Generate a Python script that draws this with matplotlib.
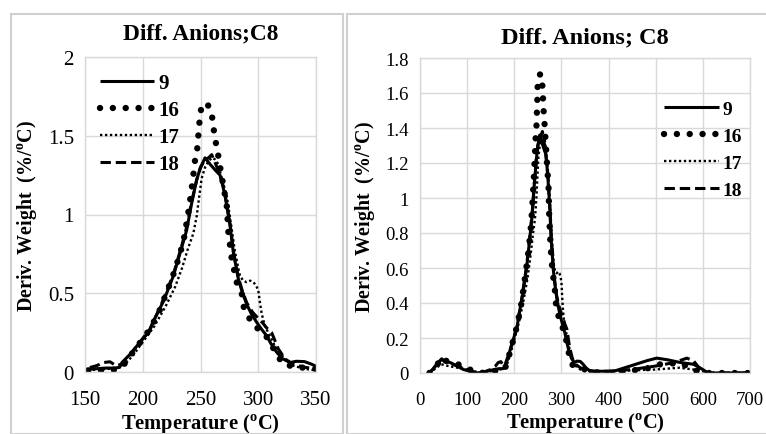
import matplotlib
matplotlib.use("Agg")
import matplotlib.pyplot as plt
from matplotlib.patches import Rectangle
from matplotlib.ticker import FuncFormatter

plt.rcParams['font.family'] = ['Liberation Serif', 'DejaVu Serif']
plt.rcParams['mathtext.fontset'] = 'custom'
plt.rcParams['mathtext.rm'] = 'Liberation Serif'
plt.rcParams['mathtext.bf'] = 'Liberation Serif:bold'

# ---------------- data ----------------
series_names = ['9', '16', '17', '18']

t9 = [20, 27, 35, 46, 53, 64, 78, 92, 106, 120, 135, 150, 158, 168, 176, 180, 182, 186, 190, 197.6,
      206, 209, 218, 226.5, 233.7, 238, 242.3, 246.7, 249.6, 253.9, 258.2, 263, 266.9, 269, 271.2,
      275.6, 278.4, 282.8, 286, 290, 294, 298.7, 303, 307.3, 311, 316, 321, 327.5, 333, 340, 346,
      352, 361, 375, 411, 446, 481, 502, 524, 552, 580, 598, 609, 620, 700]
v9 = [0.0, 0.02, 0.05, 0.08, 0.065, 0.06, 0.04, 0.02, 0.01, 0.0, 0.005, 0.015, 0.02, 0.025, 0.025, 0.03,
      0.06, 0.09, 0.12, 0.19, 0.26, 0.32, 0.45, 0.61, 0.79, 0.90, 1.07, 1.22, 1.29, 1.36, 1.32, 1.28,
      1.25, 1.19, 1.12, 0.93, 0.76, 0.59, 0.51, 0.43, 0.37, 0.315, 0.27, 0.23, 0.18, 0.125, 0.085,
      0.06, 0.068, 0.066, 0.05, 0.03, 0.01, 0.01, 0.01, 0.04, 0.07, 0.085, 0.076, 0.06, 0.05, 0.023,
      0.004, 0.0, 0.0]

t16 = [20, 30, 40, 48, 55, 66, 80, 91, 100, 112, 130, 150, 165, 178, 184, 190, 197, 206, 214, 222,
       228, 233, 236, 239.4, 242.3, 243.8, 245.2, 247.2, 248.1, 249, 249.6, 252, 255.3, 257.5, 259.7,
       261.1, 262.6, 264.6, 266.3, 268, 269.8, 272.7, 274.1, 277, 281.3, 285.7, 287, 291.4, 297.2,
       305.8, 311.6, 316, 321.7, 333.3, 345, 360, 382, 418, 446, 467, 488, 510, 528, 545, 566, 584,
       609, 700]
v16 = [0.0, 0.03, 0.06, 0.09, 0.07, 0.06, 0.05, 0.04, 0.03, 0.01, 0.0, 0.01, 0.012, 0.015, 0.05,
       0.11, 0.18, 0.27, 0.38, 0.53, 0.65, 0.77, 0.86, 1.01, 1.16, 1.25, 1.34, 1.42, 1.50, 1.575, 1.65,
       1.69, 1.71, 1.68, 1.64, 1.56, 1.48, 1.41, 1.33, 1.26, 1.18, 1.06, 0.89, 0.72, 0.57, 0.50, 0.42,
       0.35, 0.29, 0.24, 0.17, 0.11, 0.05, 0.03, 0.025, 0.01, 0.0, 0.0, 0.013, 0.02, 0.03, 0.05, 0.05,
       0.06, 0.04, 0.013, 0.0, 0.0]

t17 = [20, 30, 45, 60, 80, 100, 120, 150, 170, 180, 186, 192, 200, 210, 220, 228, 234, 239,
       243.8, 246.7, 249, 251, 254, 257, 260, 262.5, 265.4, 268.4, 272.7, 277, 279.9, 284.2, 287,
       290, 293, 295.8, 298, 300, 301.5, 303, 305.8, 310.2, 314, 318.8, 324, 330.4, 340, 350, 400,
       500, 550, 580, 620, 700]
v17 = [0.0, 0.02, 0.05, 0.04, 0.03, 0.02, 0.0, 0.01, 0.02, 0.03, 0.06, 0.11, 0.19, 0.29, 0.42, 0.54,
       0.66, 0.78, 0.88, 0.99, 1.12, 1.23, 1.30, 1.34, 1.36, 1.35, 1.32, 1.23, 1.12, 0.91, 0.76, 0.61,
       0.58, 0.57, 0.58, 0.57, 0.55, 0.52, 0.44, 0.37, 0.29, 0.23, 0.17, 0.125, 0.07, 0.04, 0.02, 0.01,
       0.01, 0.02, 0.03, 0.02, 0.0, 0.0]

t18 = [20, 30, 46, 55, 70, 90, 110, 130, 150, 160, 166, 171.6, 177, 182, 186, 190, 197.6, 206,
       215, 226.5, 233.7, 238, 242.3, 246.7, 250, 254, 257, 259.7, 262, 266, 269, 271.2, 275.6, 278.4,
       282.8, 286, 290, 295, 300, 304, 307.3, 311.6, 317.4, 323.2, 330, 340, 350, 370, 400, 450, 500,
       540, 566, 580, 594, 610, 700]
v18 = [0.0, 0.03, 0.08, 0.06, 0.05, 0.03, 0.01, 0.0, 0.02, 0.04, 0.06, 0.065, 0.04, 0.05, 0.08,
       0.12, 0.19, 0.27, 0.41, 0.62, 0.80, 0.92, 1.08, 1.22, 1.30, 1.35, 1.36, 1.38, 1.34, 1.27, 1.20,
       1.13, 0.94, 0.77, 0.60, 0.52, 0.44, 0.38, 0.34, 0.31, 0.28, 0.25, 0.146, 0.083, 0.05, 0.03,
       0.02, 0.01, 0.01, 0.02, 0.04, 0.06, 0.085, 0.07, 0.023, 0.0, 0.0]

left_xticks = [150, 200, 250, 300, 350]
left_yticks = [0, 0.5, 1, 1.5, 2]
right_xticks = [0, 100, 200, 300, 400, 500, 600, 700]
right_yticks = [0, 0.2, 0.4, 0.6, 0.8, 1.0, 1.2, 1.4, 1.6, 1.8]

title_left = 'Diff. Anions;C8'
title_right = 'Diff. Anions; C8'
xlabel = r'Temperature ($^{\mathbf{o}}$C)'
ylabel = r'Deriv. Weight  (%/$^{\mathbf{o}}$C)'

# ---------------- figure ----------------
W, H = 766, 435
fig = plt.figure(figsize=(W / 100, H / 100), dpi=100)

def box(x0, y0, x1, y1):
    return [x0 / W, 1 - y1 / H, (x1 - x0) / W, (y1 - y0) / H]

grid_c = '#d9d9d9'
styles = [
    dict(color='black', lw=2.2, linestyle='-'),
    dict(color='black', lw=4.6, linestyle=(0, (0.01, 2.0)), dash_capstyle='round'),
    dict(color='black', lw=1.7, linestyle=(0, (1, 1.1))),
    dict(color='black', lw=2.2, linestyle=(0, (3.4, 1.6))),
]
xs = [t9, t16, t17, t18]
ys = [v9, v16, v17, v18]

# chart-area borders
fig.patches.append(Rectangle((11 / W, 0), (343 - 11) / W, 1 - 15 / H, transform=fig.transFigure,
                             fill=False, edgecolor='#d0d0d0', lw=1.5, zorder=0))
fig.patches.append(Rectangle((347 / W, 0), (W + 5 - 347) / W, 1 - 15 / H, transform=fig.transFigure,
                             fill=False, edgecolor='#d0d0d0', lw=1.5, zorder=0, clip_on=False))

fmt = FuncFormatter(lambda v, p: ('%g' % v))

def setup(ax, xlim, ylim, xt, yt, tick_fs, title, title_fs, title_pad):
    for x, y, st, nm in zip(xs, ys, styles, series_names):
        ax.plot(x, y, label=nm, solid_capstyle='butt', **st)
    ax.set_xlim(*xlim)
    ax.set_ylim(*ylim)
    ax.set_xticks(xt)
    ax.set_yticks(yt)
    ax.xaxis.set_major_formatter(fmt)
    ax.yaxis.set_major_formatter(fmt)
    ax.grid(True, color=grid_c, lw=1.0)
    ax.set_axisbelow(True)
    for s in ax.spines.values():
        s.set_color(grid_c)
        s.set_linewidth(1.0)
    ax.tick_params(axis='x', length=0, labelsize=tick_fs, pad=13)
    ax.tick_params(axis='y', length=0, labelsize=tick_fs, pad=8)
    ax.set_title(title, fontsize=title_fs, fontweight='bold', pad=title_pad)
    ax.set_xlabel(xlabel, fontsize=14.8, fontweight='bold', labelpad=1.5)
    ax.set_ylabel(ylabel, fontsize=14.4, fontweight='bold', labelpad=6)

axL = fig.add_axes(box(85, 58, 316, 373))
setup(axL, (150, 350), (0, 2), left_xticks, left_yticks, 15, title_left, 16.8, 13.5)
axL.legend(loc='upper left', bbox_to_anchor=(0.03, 0.975), frameon=False, handlelength=2.6,
           handletextpad=0.2, labelspacing=0.34, prop=dict(size=15, weight='bold'),
           borderaxespad=0)

axR = fig.add_axes(box(420, 59, 750, 374))
setup(axR, (0, 700), (0, 1.8), right_xticks, right_yticks, 13.5, title_right, 17.5, 11)
axR.legend(loc='upper right', bbox_to_anchor=(1.0, 0.89), frameon=False, handlelength=2.8,
           handletextpad=0.2, labelspacing=0.48, prop=dict(size=14, weight='bold'),
           borderaxespad=0)

fig.savefig('out.png', dpi=100)
